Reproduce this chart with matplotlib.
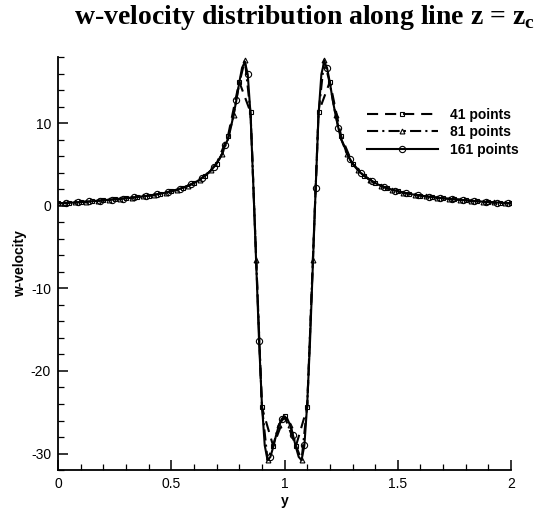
import matplotlib
matplotlib.use("Agg")
import matplotlib.pyplot as plt
import numpy as np
from matplotlib.lines import Line2D
from matplotlib.ticker import MultipleLocator


LABELS = ["41 points", "81 points", "161 points"]

# w-velocity on the 41-point grid (dy = 0.05)
W_41 = [
    0.30, 0.35, 0.44, 0.53, 0.65, 0.77, 0.90, 1.05, 1.22, 1.44,
    1.75, 2.15, 2.75, 3.65, 5.10, 8.40, 15.00, 11.30, -24.40, -29.10,
    -25.50,
    -29.10, -24.40, 11.30, 15.00, 8.40, 5.10, 3.65, 2.75, 2.15, 1.75,
    1.44, 1.22, 1.05, 0.90, 0.77, 0.65, 0.53, 0.44, 0.35, 0.30,
]

# w-velocity on the 81-point grid (dy = 0.025)
W_81 = [
    0.30, 0.32, 0.35, 0.39, 0.44, 0.48, 0.53, 0.59, 0.65, 0.71,
    0.77, 0.83, 0.90, 0.97, 1.05, 1.13, 1.22, 1.32, 1.44, 1.58,
    1.75, 1.94, 2.15, 2.42, 2.75, 3.15, 3.65, 4.27, 5.10, 6.30,
    8.05, 11.00, 14.80, 17.60, 11.20, -6.60, -24.20, -30.80, -29.00, -26.50,
    -25.60,
    -26.50, -29.00, -30.80, -24.20, -6.60, 11.20, 17.60, 14.80, 11.00, 8.05,
    6.30, 5.10, 4.27, 3.65, 3.15, 2.75, 2.42, 2.15, 1.94, 1.75,
    1.58, 1.44, 1.32, 1.22, 1.13, 1.05, 0.97, 0.90, 0.83, 0.77,
    0.71, 0.65, 0.59, 0.53, 0.48, 0.44, 0.39, 0.35, 0.32, 0.30,
]

# w-velocity on the 161-point grid (dy = 0.0125)
W_161 = [
    0.30, 0.31, 0.32, 0.33, 0.35, 0.37, 0.39, 0.42, 0.44, 0.46,
    0.48, 0.51, 0.53, 0.56, 0.59, 0.62, 0.65, 0.68, 0.71, 0.74,
    0.77, 0.80, 0.83, 0.87, 0.90, 0.94, 0.97, 1.01, 1.05, 1.09,
    1.13, 1.17, 1.22, 1.27, 1.32, 1.38, 1.44, 1.51, 1.58, 1.66,
    1.75, 1.84, 1.94, 2.04, 2.15, 2.28, 2.42, 2.57, 2.75, 2.94,
    3.15, 3.39, 3.65, 3.94, 4.27, 4.66, 5.10, 5.65, 6.30, 7.30,
    8.05, 9.40, 11.00, 12.80, 14.90, 16.70, 17.40, 15.90, 11.00, 2.20,
    -7.00, -16.40, -24.00, -29.00, -30.80, -30.40, -29.20, -27.80, -26.60, -25.80,
    -25.50,
    -25.80, -26.60, -27.80, -29.20, -30.40, -30.80, -29.00, -24.00, -16.40, -7.00,
    2.20, 11.00, 15.90, 17.40, 16.70, 14.90, 12.80, 11.00, 9.40, 8.05,
    7.30, 6.30, 5.65, 5.10, 4.66, 4.27, 3.94, 3.65, 3.39, 3.15,
    2.94, 2.75, 2.57, 2.42, 2.28, 2.15, 2.04, 1.94, 1.84, 1.75,
    1.66, 1.58, 1.51, 1.44, 1.38, 1.32, 1.27, 1.22, 1.17, 1.13,
    1.09, 1.05, 1.01, 0.97, 0.94, 0.90, 0.87, 0.83, 0.80, 0.77,
    0.74, 0.71, 0.68, 0.65, 0.62, 0.59, 0.56, 0.53, 0.51, 0.48,
    0.46, 0.44, 0.42, 0.39, 0.37, 0.35, 0.33, 0.32, 0.31, 0.30,
]

Y_41 = np.linspace(0.0, 2.0, len(W_41))
Y_81 = np.linspace(0.0, 2.0, len(W_81))
Y_161 = np.linspace(0.0, 2.0, len(W_161))


def main():
    plt.rcParams["font.family"] = ["Liberation Sans", "DejaVu Sans"]
    plt.rcParams["axes.unicode_minus"] = False
    plt.rcParams["lines.scale_dashes"] = False
    plt.rcParams["mathtext.fontset"] = "custom"
    plt.rcParams["mathtext.rm"] = "Liberation Serif:bold"

    fig = plt.figure(figsize=(5.42, 5.11), dpi=100)
    ax = fig.add_axes([0.107, 0.080, 0.836, 0.8085])

    styles = [
        dict(dashes=(8, 5), marker="s", markersize=3.2, markevery=1),
        dict(dashes=(8, 3, 1.5, 3), marker="^", markersize=3.5, markevery=(1, 2)),
        dict(linestyle="-", marker="o", markersize=4.5, markevery=(3, 4)),
    ]
    series = [(Y_41, W_41), (Y_81, W_81), (Y_161, W_161)]

    handles = []
    for (ys, ws), style, label in zip(series, styles, LABELS):
        ax.plot(ys, ws, color="black", linewidth=1.5, markerfacecolor="none",
                markeredgewidth=0.8, **style)
        proxy = {k: v for k, v in style.items() if k != "markevery"}
        handles.append(Line2D([], [], color="black", linewidth=1.5,
                              markerfacecolor="none", markeredgewidth=0.8,
                              label=label, **proxy))

    ax.set_xlim(0, 2)
    ax.set_ylim(-32, 18)
    ax.xaxis.set_major_locator(MultipleLocator(0.5))
    ax.xaxis.set_minor_locator(MultipleLocator(0.1))
    ax.yaxis.set_major_locator(MultipleLocator(10))
    ax.yaxis.set_minor_locator(MultipleLocator(2))
    ax.set_xticks([0, 0.5, 1, 1.5, 2])
    ax.set_xticklabels(["0", "0.5", "1", "1.5", "2"])

    ax.spines["top"].set_visible(False)
    ax.spines["right"].set_visible(False)
    for side in ["left", "bottom"]:
        ax.spines[side].set_linewidth(1.3)
    ax.tick_params(which="major", direction="in", length=7, width=1.1,
                   labelsize=10, pad=5)
    ax.tick_params(which="minor", direction="in", length=4.5, width=0.9)

    ax.set_xlabel("y", fontsize=10, fontweight="bold", labelpad=2)
    ax.set_ylabel("w-velocity", fontsize=10, fontweight="bold", labelpad=3)

    ax.legend(handles=handles, loc="upper left",
              bbox_to_anchor=(0.677, 0.789), bbox_transform=fig.transFigure,
              frameon=False, borderpad=0, borderaxespad=0,
              handlelength=5.1, handletextpad=0.85, labelspacing=0.25,
              prop={"size": 10, "weight": "bold"})

    fig.text(0.137, 0.953, r"w-velocity distribution along line z = z$_\mathregular{c}$",
             family="Liberation Serif", fontweight="bold", fontsize=20,
             ha="left", va="baseline")

    fig.savefig("out.png", dpi=100)
    plt.close(fig)


if __name__ == "__main__":
    main()
